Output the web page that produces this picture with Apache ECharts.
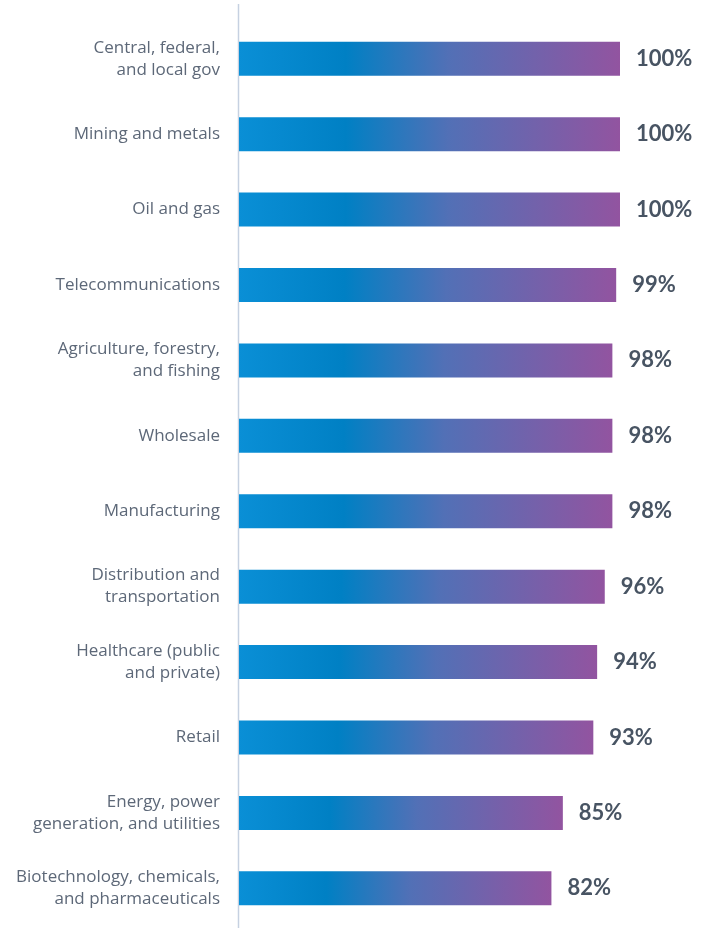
<!DOCTYPE html>
<html><head><meta charset="utf-8">
<script src="https://cdn.jsdelivr.net/npm/echarts@6/dist/echarts.min.js"></script>
<style>html,body{margin:0;padding:0;background:#fff}#c{width:712px;height:928px}</style>
</head><body><div id="c"></div>
<script>
const categories = [
  "Central, federal,\nand local gov",
  "Mining and metals",
  "Oil and gas",
  "Telecommunications",
  "Agriculture, forestry,\nand fishing",
  "Wholesale",
  "Manufacturing",
  "Distribution and\ntransportation",
  "Healthcare (public\nand private)",
  "Retail",
  "Energy, power\ngeneration, and utilities",
  "Biotechnology, chemicals,\nand pharmaceuticals"
];
const values = [100, 100, 100, 99, 98, 98, 98, 96, 94, 93, 85, 82];

const chart = echarts.init(document.getElementById('c'), null, {renderer: 'canvas'});
const grad = new echarts.graphic.LinearGradient(0, 0, 1, 0, [
  {offset: 0, color: '#0a8fd6'},
  {offset: 0.28, color: '#0080c4'},
  {offset: 0.55, color: '#5270b6'},
  {offset: 1, color: '#9254a0'}
]);
chart.setOption({
  animation: false,
  grid: {left: 239, width: 381, top: 21, height: 905, containLabel: false},
  xAxis: {type: 'value', min: 0, max: 100, show: false},
  yAxis: {
    type: 'category', data: categories, inverse: true,
    axisLine: {show: false}, axisTick: {show: false}, splitLine: {show: false},
    axisLabel: {
      margin: 19, color: '#5d6878', fontFamily: 'Open Sans', fontSize: 17,
      lineHeight: 22, align: 'right'
    }
  },
  series: [{
    type: 'bar', data: values, barWidth: 34,
    itemStyle: {color: grad},
    label: {
      show: true, position: 'right', distance: 16,
      formatter: p => p.value + '%',
      color: '#485463', fontFamily: 'Lato', fontWeight: 'bold', fontSize: 22
    }
  }],
  graphic: [{
    type: 'line', shape: {x1: 238.5, y1: 4, x2: 238.5, y2: 928},
    style: {stroke: '#c6d1e1', lineWidth: 1.5}
  }]
});
</script></body></html>
